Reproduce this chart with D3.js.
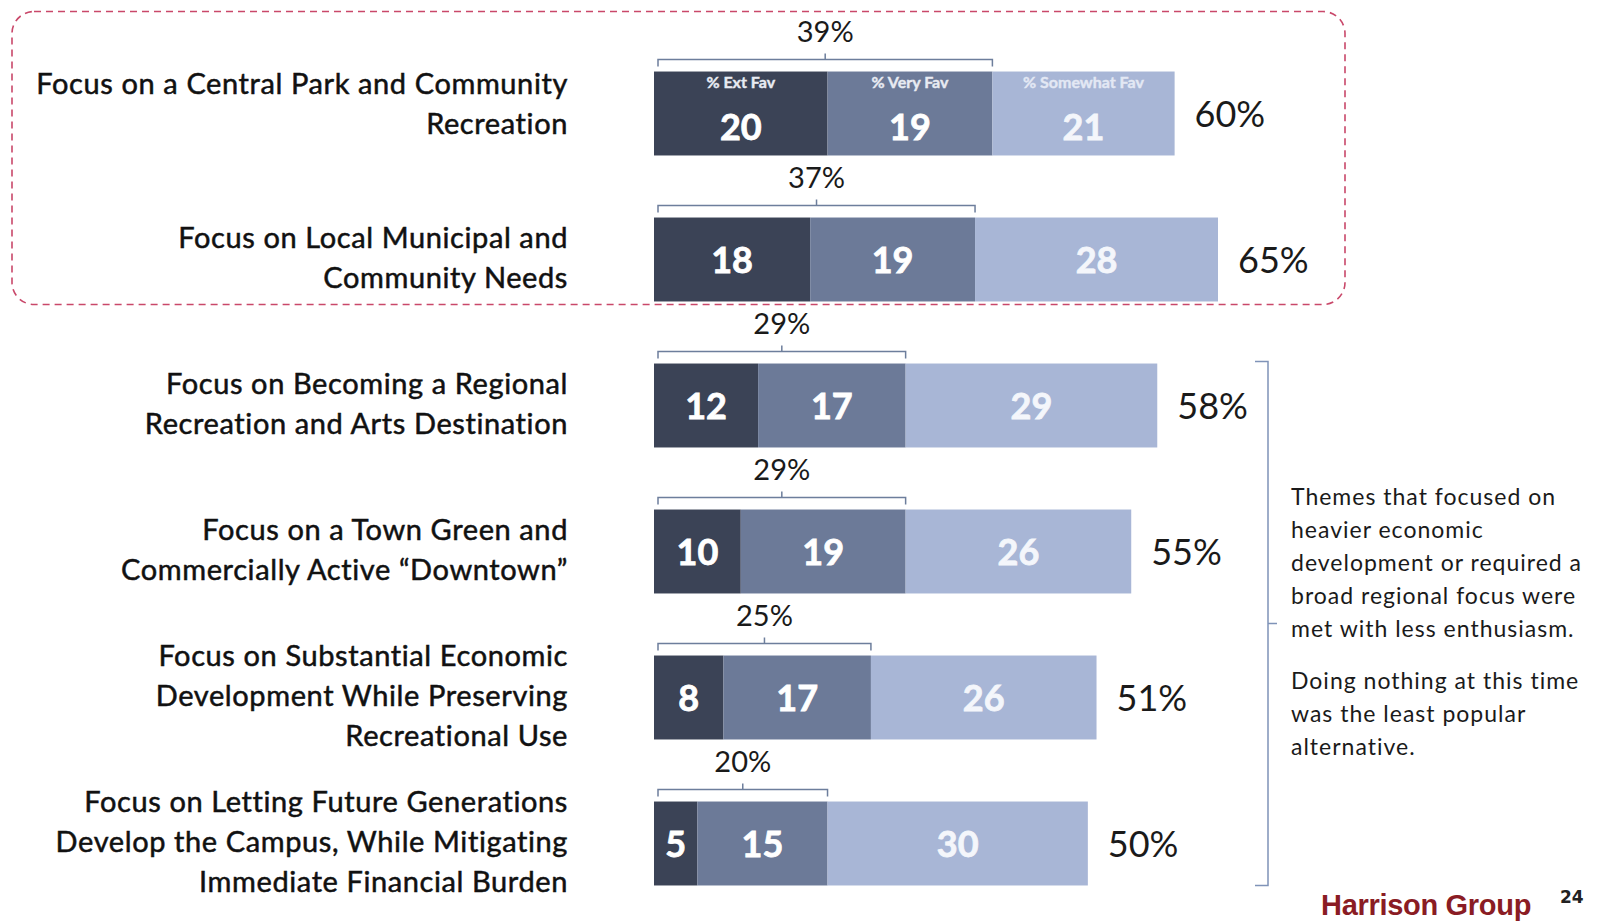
<!DOCTYPE html>
<html>
<head>
<meta charset="utf-8">
<script src="https://cdn.jsdelivr.net/npm/d3@7"></script>
<style>
  body { margin: 0; background: #fff; }
  svg { display: block; }
</style>
</head>
<body>
<svg width="1602" height="922"></svg>
<script>
// chart data
const categories = [
  ["Focus on a Central Park and Community", "Recreation"],
  ["Focus on Local Municipal and", "Community Needs"],
  ["Focus on Becoming a Regional", "Recreation and Arts Destination"],
  ["Focus on a Town Green and", "Commercially Active \u201cDowntown\u201d"],
  ["Focus on Substantial Economic", "Development While Preserving", "Recreational Use"],
  ["Focus on Letting Future Generations", "Develop the Campus, While Mitigating", "Immediate Financial Burden"]
];
const seriesNames = ["% Ext Fav", "% Very Fav", "% Somewhat Fav"];
const extFav = [20, 18, 12, 10, 8, 5];
const veryFav = [19, 19, 17, 19, 17, 15];
const somewhatFav = [21, 28, 29, 26, 26, 30];
const top2 = [39, 37, 29, 29, 25, 20];
const totals = [60, 65, 58, 55, 51, 50];
const noteLines = [
  ["Themes that focused on", "heavier economic", "development or required a", "broad regional focus were", "met with less enthusiasm."],
  ["Doing nothing at this time", "was the least popular", "alternative."]
];

var svg = d3.select("svg");
const colors = ["#3b4356", "#6c7a98", "#a8b6d6"];
const font = "Lato, 'Open Sans', sans-serif";

const rows = categories.map((c, i) => ({
  key: i, label: c,
  ext: extFav[i], very: veryFav[i], some: somewhatFav[i],
  top2: top2[i], total: totals[i]
}));

var x = d3.scaleLinear().domain([0, 65]).range([654, 1218]);
var y = d3.scaleBand()
  .domain(rows.map(d => d.key))
  .range([40.5, 916.5])
  .paddingInner(0.425)
  .paddingOuter(0.2125);
const bh = y.bandwidth();

var stack = d3.stack().keys(["ext", "very", "some"]);
var layers = stack(rows);

// dashed box around the first two themes
svg.append("rect")
  .attr("x", 12).attr("y", y(0) - 60)
  .attr("width", 1333).attr("height", y(1) + bh + 3 - (y(0) - 60))
  .attr("rx", 22).attr("ry", 22)
  .attr("fill", "none")
  .attr("stroke", "#c9486a")
  .attr("stroke-width", 1.6)
  .attr("stroke-dasharray", "7,5");

// stacked bars
layers.forEach((layer, li) => {
  svg.append("g").selectAll("rect")
    .data(layer)
    .enter().append("rect")
    .attr("x", d => x(d[0]))
    .attr("y", d => y(d.data.key))
    .attr("width", d => x(d[1]) - x(d[0]))
    .attr("height", bh)
    .attr("fill", colors[li]);

  svg.append("g").selectAll("text")
    .data(layer)
    .enter().append("text")
    .attr("x", d => (x(d[0]) + x(d[1])) / 2)
    .attr("y", d => y(d.data.key) + bh / 2 + 13 + (d.data.key === 0 ? 13 : 0))
    .attr("text-anchor", "middle")
    .attr("font-family", font)
    .attr("font-weight", 700)
    .attr("font-size", 36)
    .attr("fill", li === 2 ? "#f4f6fb" : "#fff")
    .attr("stroke", li === 2 ? "#f4f6fb" : "#fff")
    .attr("stroke-width", 0.8)
    .text(d => d[1] - d[0]);

  // series header inside the first bar
  var first = layer[0];
  svg.append("text")
    .attr("x", (x(first[0]) + x(first[1])) / 2)
    .attr("y", y(0) + 16)
    .attr("text-anchor", "middle")
    .attr("font-family", font)
    .attr("font-weight", 700)
    .attr("font-size", 16)
    .attr("fill", li === 2 ? "#e3e8f4" : "#e8ebf2")
    .attr("stroke", li === 2 ? "#e3e8f4" : "#e8ebf2")
    .attr("stroke-width", 0.4)
    .text(seriesNames[li]);
});

// top-two brackets and labels
var br = svg.append("g");
rows.forEach(d => {
  var top = y(d.key);
  var x0 = x(0) + 4, x1 = x(d.ext + d.very), xc = (x0 + x1) / 2;
  br.append("path")
    .attr("d", `M${x0},${top - 5} V${top - 12} H${x1} V${top - 5} M${xc},${top - 12} V${top - 18}`)
    .attr("fill", "none")
    .attr("stroke", "#6d7e9c")
    .attr("stroke-width", 1.5);
  br.append("text")
    .attr("x", xc).attr("y", top - 30)
    .attr("text-anchor", "middle")
    .attr("font-family", font)
    .attr("font-size", 29)
    .attr("fill", "#1a1a1a")
    .text(d.top2 + "%");
});

// totals
svg.append("g").selectAll("text")
  .data(rows)
  .enter().append("text")
  .attr("x", d => x(d.total) + 20)
  .attr("y", d => y(d.key) + bh / 2 + 13)
  .attr("font-family", font)
  .attr("font-size", 36)
  .attr("fill", "#1a1a1a")
  .text(d => d.total + "%");

// category labels
svg.append("g").selectAll("text")
  .data(rows)
  .enter().append("text")
  .attr("text-anchor", "end")
  .attr("font-family", font)
  .attr("font-size", 29)
  .attr("letter-spacing", 0.6)
  .attr("fill", "#111")
  .attr("stroke", "#111")
  .attr("stroke-width", 0.5)
  .each(function(d) {
    var n = d.label.length;
    var cy = y(d.key) + bh / 2 - (d.key === 0 ? 10 : 2);
    d3.select(this).selectAll("tspan")
      .data(d.label)
      .enter().append("tspan")
      .attr("x", 568)
      .attr("y", (t, i) => cy + (i - (n - 1) / 2) * 40 + 10)
      .text(t => t);
  });

// right bracket grouping the last four
var by0 = y(2) - 2, by1 = y(5) + bh, bx = 1268, bmid = (by0 + by1) / 2;
svg.append("path")
  .attr("d", `M${bx - 13},${by0} H${bx} V${by1} H${bx - 13} M${bx},${bmid} H${bx + 9}`)
  .attr("fill", "none")
  .attr("stroke", "#7f93b8")
  .attr("stroke-width", 1.5);

// note text
var note = svg.append("g")
  .attr("font-family", font)
  .attr("font-size", 23)
  .attr("fill", "#1a1a1a")
  .attr("letter-spacing", 1.0);
var ly = 505;
noteLines.forEach((para, pi) => {
  para.forEach(line => {
    note.append("text").attr("x", 1291).attr("y", ly).text(line);
    ly += 33;
  });
  ly += 19;
});

// footer
svg.append("text")
  .attr("x", 1321).attr("y", 915)
  .attr("font-family", "'Liberation Sans', Arial, sans-serif")
  .attr("font-weight", 700)
  .attr("font-size", 29)
  .attr("letter-spacing", -0.3)
  .attr("fill", "#8a1c24")
  .text("Harrison Group");
svg.append("text")
  .attr("x", 1560).attr("y", 903)
  .attr("font-family", "'DejaVu Sans', sans-serif")
  .attr("font-weight", 700)
  .attr("font-size", 17)
  .attr("fill", "#222")
  .text("24");
</script>
</body>
</html>
